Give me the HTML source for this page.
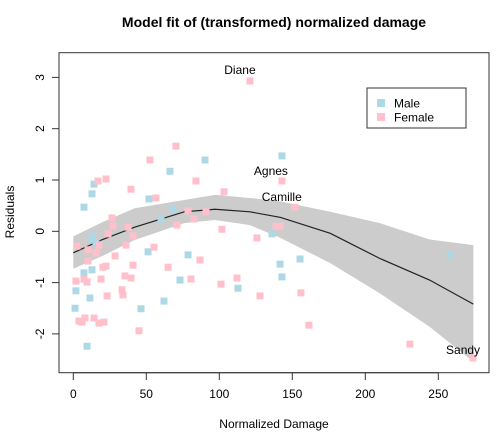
<!DOCTYPE html>
<html><head><meta charset="utf-8"><style>
body{margin:0;background:#fff}
svg{display:block;font-family:"Liberation Sans",sans-serif}
</style></head><body>
<svg id="chart" width="504" height="432" viewBox="0 0 504 432">
<text x="274" y="27" text-anchor="middle" font-weight="bold" font-size="14">Model fit of (transformed) normalized damage</text>
<g id="band-g"></g>
<g id="pts"></g>
<g id="lab"></g>
<rect x="59" y="52.7" width="430" height="320" fill="none" stroke="#333" stroke-width="1"/>
<g id="axes" font-size="12"></g>
<text x="274" y="428" text-anchor="middle" font-size="12">Normalized Damage</text>
<text transform="translate(14,212) rotate(-90)" text-anchor="middle" font-size="12">Residuals</text>
<g>
<rect x="367" y="88" width="99" height="40" fill="#fff" stroke="#333"/>
<rect x="377" y="99" width="8" height="8" fill="#add8e6"/>
<text x="394" y="107.5" font-size="12">Male</text>
<rect x="377" y="113" width="8" height="8" fill="#ffc0cb"/>
<text x="394" y="121.5" font-size="12">Female</text>
</g>
</svg>
<script>
const maleX=[7.3,12.8,1.8,11.4,1.2,9.4,51.2,62.1,46.4,73.1,66.2,14.2,12.8,7.3,51.8,68.3,60.1,12.8,12.8,15.5,90.2,142.9,136.1,78.6,141.6,155.3,142.9,112.8,258.0];
const maleY=[-0.81,-0.75,-1.16,-1.30,-1.50,-2.24,-0.40,-1.36,-1.51,-0.95,1.17,0.92,0.73,0.47,0.63,0.43,0.24,-0.09,-0.15,-0.23,1.39,1.47,-0.05,-0.46,-0.64,-0.54,-0.89,-1.11,-0.46];
const femX=[10.1,15.5,28.6,20.3,22.4,40.9,64.9,1.8,7.3,9.4,19.0,35.4,39.5,23.1,33.4,34.0,3.9,6.0,8.0,14.2,17.6,21.0,45.0,70.3,52.5,16.9,22.4,39.5,56.6,26.5,27.2,37.5,23.8,40.9,71.0,2.5,10.1,17.6,36.1,55.3,84.0,142.9,103.2,151.7,78.6,90.9,82.7,101.8,138.8,141.6,125.8,86.8,80.6,112.1,101.2,127.9,155.9,161.4,121.0,230.6,273.8];
const femY=[-0.58,-0.42,-0.48,-0.70,-0.68,-0.66,-0.70,-0.97,-0.93,-0.99,-0.93,-0.87,-0.91,-1.26,-1.14,-1.24,-1.75,-1.77,-1.69,-1.69,-1.79,-1.77,-1.94,1.66,1.39,0.98,1.02,0.82,0.65,0.26,0.10,0.08,-0.05,-0.09,0.12,-0.29,-0.36,-0.27,-0.27,-0.31,0.98,0.98,0.77,0.47,0.40,0.38,0.24,0.04,0.10,0.10,-0.13,-0.56,-0.93,-0.91,-1.03,-1.26,-1.20,-1.83,2.93,-2.20,-2.47];
const fitX=[0,20,42,76,97,121,142,176,210,244,274];
const fitY=[-0.42,-0.16,0.08,0.38,0.43,0.38,0.27,-0.04,-0.53,-0.95,-1.42];
const upperY=[-0.10,0.18,0.45,0.61,0.71,0.65,0.58,0.38,0.16,-0.16,-0.27];
const lowerY=[-0.73,-0.48,-0.17,0.16,0.22,0.12,-0.13,-0.62,-1.21,-1.86,-2.54];
const xTicks=[0,50,100,150,200,250];
const yTicks=[-2,-1,0,1,2,3];
const labNames=["Diane","Agnes","Camille","Sandy"];
const labX=[121.0,142.9,151.7,273.8];
const labY=[2.93,0.98,0.47,-2.47];
const labDx=[-10,-11,-13,-10];
const labDy=[-7,-6,-6,-4];

const NS="http://www.w3.org/2000/svg";
const sx=v=>73.3+v*1.46;
const sy=v=>231.3-v*51.3;
function mk(t,a,p){const e=document.createElementNS(NS,t);for(const k in a)e.setAttribute(k,a[k]);p.appendChild(e);return e;}
const bandG=document.getElementById('band-g');
let d="M"+fitX.map((x,i)=>sx(x)+","+sy(upperY[i])).join("L");
for(let i=fitX.length-1;i>=0;i--)d+="L"+sx(fitX[i])+","+sy(lowerY[i]);
const band=mk('path',{d:d+"Z",fill:"#cccccc"},bandG);


const line=mk('polyline',{points:fitX.map((x,i)=>sx(x)+","+sy(fitY[i])).join(" "),fill:"none",stroke:"#222","stroke-width":1.2},bandG);


const pts=document.getElementById('pts');
maleX.forEach((x,i)=>{const r=mk('rect',{x:sx(x)-3.5,y:sy(maleY[i])-3.5,width:7,height:7,fill:"#add8e6"},pts);

});
femX.forEach((x,i)=>{const r=mk('rect',{x:sx(x)-3.5,y:sy(femY[i])-3.5,width:7,height:7,fill:"#ffc0cb"},pts);

});
const lab=document.getElementById('lab');
labNames.forEach((n,i)=>{const t=mk('text',{x:sx(labX[i])+labDx[i],y:sy(labY[i])+labDy[i],"text-anchor":"middle","font-size":12},lab);t.textContent=n;

});
const ax=document.getElementById('axes');
mk('line',{x1:sx(0),x2:sx(250),y1:372.7,y2:372.7,stroke:"#333"},ax);
mk('line',{x1:59,x2:59,y1:sy(-2),y2:sy(3),stroke:"#333"},ax);
xTicks.forEach(v=>{mk('line',{x1:sx(v),x2:sx(v),y1:372.7,y2:380,stroke:"#333"},ax);
const t=mk('text',{x:sx(v),y:398,"text-anchor":"middle"},ax);t.textContent=v;

});
yTicks.forEach(v=>{mk('line',{x1:52,x2:59,y1:sy(v),y2:sy(v),stroke:"#333"},ax);
const t=mk('text',{transform:`translate(44,${sy(v)}) rotate(-90)`,"text-anchor":"middle"},ax);t.textContent=v;

});
</script>
</body></html>
